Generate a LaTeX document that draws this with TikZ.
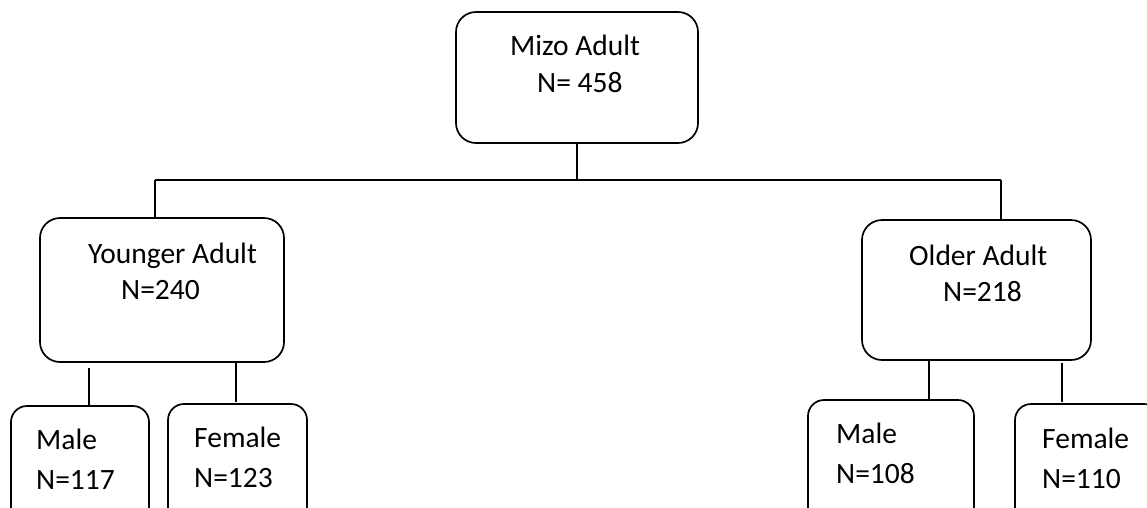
\documentclass[tikz,border=0pt]{standalone}
\usepackage{fontspec}
\setmainfont{Carlito}
\begin{document}
\begin{tikzpicture}[x=1pt,y=-1pt,
  box/.style={draw, line width=1.7pt, rounded corners=20pt, inner sep=0pt},
  lbl/.style={anchor=base west, inner sep=0pt, font=\fontsize{29.5}{35}\selectfont},
  link/.style={line width=1.5pt}]
\clip (0,0) rectangle (1147,507);
\fill[white] (0,0) rectangle (1147,507);
% boxes
\node[box, minimum width=242pt, minimum height=131pt] (top) at (577,77.5) {};
\node[box, minimum width=244pt, minimum height=144pt] (young) at (162,290) {};
\node[box, minimum width=229pt, minimum height=140pt] (old) at (976.5,290) {};
\node[box, rounded corners=16pt, minimum width=138pt, minimum height=134pt] (ym) at (80,473) {};
\node[box, rounded corners=16pt, minimum width=139pt, minimum height=136pt] (yf) at (237.5,472) {};
\node[box, rounded corners=16pt, minimum width=166pt, minimum height=140pt] (om) at (891,470) {};
\node[box, rounded corners=16pt, minimum width=145pt, minimum height=136pt] (of) at (1087.5,472) {};
% texts
\node[lbl] (t1) at (510,55) {Mizo Adult};
\node[lbl] (t2) at (537,92) {N= 458};
\node[lbl] (t3) at (88,263) {Younger Adult};
\node[lbl] (t4) at (121,299) {N=240};
\node[lbl] (t5) at (909,265) {Older Adult};
\node[lbl] (t6) at (943,301) {N=218};
\node[lbl] (t7) at (36,449) {Male};
\node[lbl] (t8) at (36,489) {N=117};
\node[lbl] (t9) at (194,447) {Female};
\node[lbl] (t10) at (194,487) {N=123};
\node[lbl] (t11) at (836,443) {Male};
\node[lbl] (t12) at (836,483) {N=108};
\node[lbl] (t13) at (1042,448) {Female};
\node[lbl] (t14) at (1042,488) {N=110};
% connectors
\coordinate (busL) at (155,180);
\coordinate (busR) at (1001,180);
\draw[link] (top.south) -- (top.south |- busL);
\draw[link] (busL) -- (busR);
\draw[link] (busL) -- (busL |- young.north);
\draw[link] (busR) -- (busR |- old.north);
\coordinate (ymtop) at (89,368);
\draw[link] (ymtop) -- (ymtop |- ym.north);
\coordinate (yftop) at (236,363);
\coordinate (yfbot) at (236,402);
\draw[link] (yftop) -- (yfbot);
\coordinate (omtop) at (929,360);
\draw[link] (omtop) -- (omtop |- om.north);
\coordinate (oftop) at (1062,363);
\coordinate (ofbot) at (1062,402);
\draw[link] (oftop) -- (ofbot);
\end{tikzpicture}
\end{document}
